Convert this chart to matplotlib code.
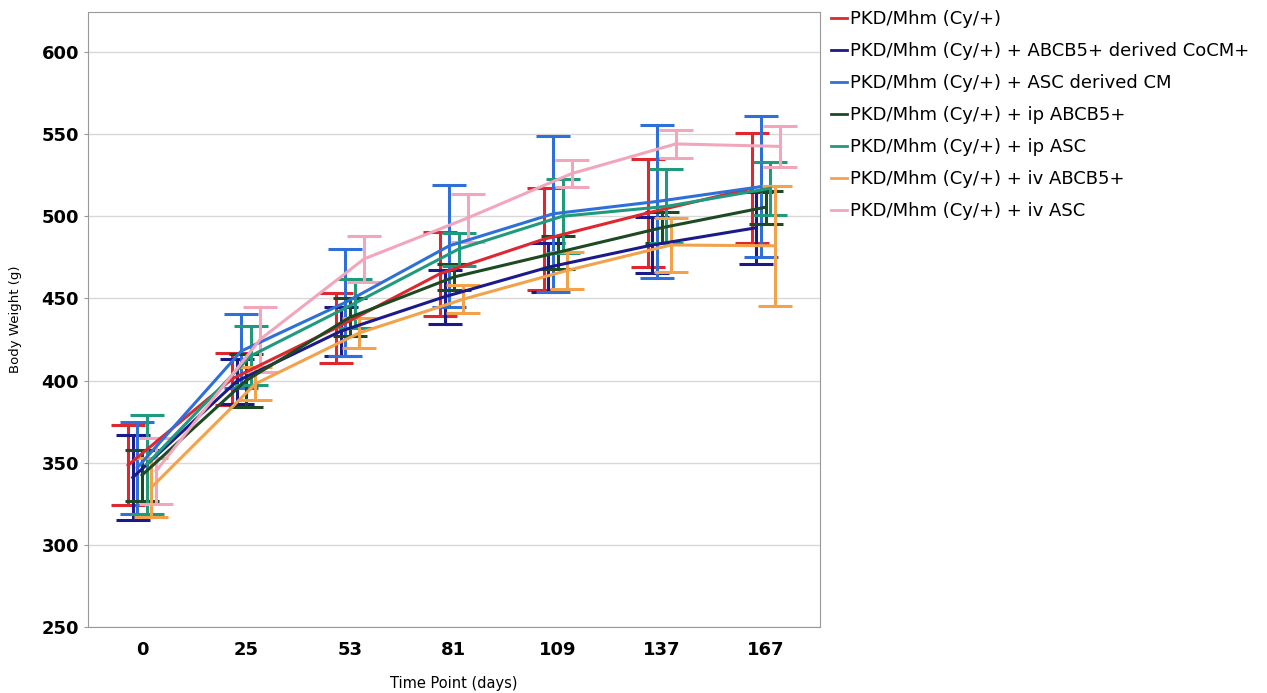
import numpy as np
import matplotlib
matplotlib.use("Agg")
import matplotlib.pyplot as plt
from matplotlib.lines import Line2D

# time points (categorical x axis)
TIME_POINTS = ["0", "25", "53", "81", "109", "137", "167"]

SERIES = [
    "PKD/Mhm (Cy/+)",
    "PKD/Mhm (Cy/+) + ABCB5+ derived CoCM+",
    "PKD/Mhm (Cy/+) + ASC derived CM",
    "PKD/Mhm (Cy/+) + ip ABCB5+",
    "PKD/Mhm (Cy/+) + ip ASC",
    "PKD/Mhm (Cy/+) + iv ABCB5+",
    "PKD/Mhm (Cy/+) + iv ASC",
]
COLORS = ["#e0262e", "#1c1a8a", "#2f6fd8", "#1d4a22", "#1f9a7c", "#f2a24a", "#f2a6bc"]

# mean body weight (g)
mean_red = [348.5, 401, 432, 465, 486, 502, 517]
mean_dblue = [341, 399.5, 430, 451, 469, 482.5, 493]
mean_blue = [347, 418, 447.5, 482, 501.5, 509, 518]
mean_dgreen = [342.5, 400, 438.5, 463, 478, 493, 505.5]
mean_teal = [349, 415, 447, 480, 500, 506, 517]
mean_orange = [335, 398, 429, 449.5, 467, 482.5, 482]
mean_pink = [345, 425, 474, 499, 526, 544, 542.5]

# error (half bar length, g)
err_red = [24.5, 16, 21.5, 25.5, 31, 33, 33.5]
err_dblue = [26, 13.5, 15, 16.5, 15, 17, 22]
err_blue = [28, 22.5, 32.5, 37, 47.5, 46.5, 43]
err_dgreen = [15.5, 16, 11.5, 8, 10, 9.5, 10]
err_teal = [30, 18, 15, 10, 22.5, 22.5, 16]
err_orange = [18, 10, 9, 8.5, 11.5, 16.5, 36.5]
err_pink = [20, 20, 14, 14.5, 8, 8.5, 12.5]

MEANS = [mean_red, mean_dblue, mean_blue, mean_dgreen, mean_teal, mean_orange, mean_pink]
ERRS = [err_red, err_dblue, err_blue, err_dgreen, err_teal, err_orange, err_pink]

fig = plt.figure(figsize=(12.67, 6.93), dpi=100)
ax = fig.add_axes([0.0695, 0.0952, 0.5775, 0.8875])

x = np.arange(len(TIME_POINTS))
step = 0.045
n = len(SERIES)
for i, (name, m, e, c) in enumerate(zip(SERIES, MEANS, ERRS, COLORS)):
    xs = x + (i - (n - 1) / 2) * step
    ax.errorbar(xs, m, yerr=e, color=c, lw=2.2, elinewidth=2.2,
                capsize=12, capthick=2.2, label=name)

ax.set_xlim(-0.52, 6.52)
ax.set_ylim(250, 624.3)
ax.set_yticks(range(250, 601, 50))
ax.set_xticks(x)
ax.set_xticklabels(TIME_POINTS)
for lab in ax.get_xticklabels() + ax.get_yticklabels():
    lab.set_fontweight("bold")
    lab.set_fontsize(13)
ax.tick_params(axis="x", length=0, pad=10)
ax.tick_params(axis="y", length=3, color="#999999")
ax.yaxis.grid(True, color="#d8d8d8", lw=1)
ax.set_axisbelow(True)
for sp in ax.spines.values():
    sp.set_color("#999999")

ax.set_xlabel("Time Point (days)", fontsize=10.5, labelpad=12)
ax.set_ylabel("Body Weight (g)", fontsize=9.5, labelpad=14)

lh = [Line2D([], [], color=c, lw=2) for c in COLORS]
fig.legend(lh, SERIES, loc="upper left", bbox_to_anchor=(0.648, 1.0),
           frameon=False, fontsize=13, handlelength=0.9, handletextpad=0.15,
           labelspacing=0.78, borderaxespad=0.15)

fig.savefig("out.png", dpi=100)
